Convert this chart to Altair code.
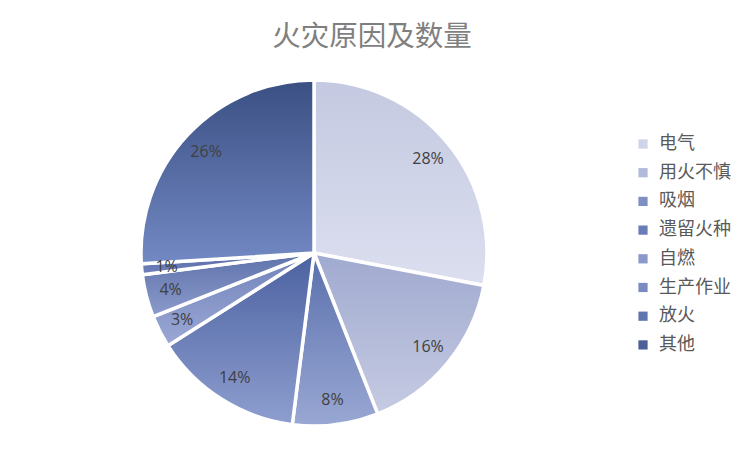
import pandas as pd
import altair as alt

causes = ["电气", "用火不慎", "吸烟", "遗留火种", "自燃", "生产作业", "放火", "其他"]
shares = [28, 16, 8, 14, 3, 4, 1, 26]
# solid colours for the legend, top / bottom gradient stops for the slices
legend_colors = ["#d0d4e8", "#b2badb", "#7f8fc3", "#6a7db8", "#8a99ca", "#7a8bc2", "#6075b0", "#4d6099"]
grad_top = ["#c4c9e1", "#a0aacf", "#5a70ac", "#4b62a1", "#7283bb", "#5e72ab", "#5668a6", "#3a4f82"]
grad_bottom = ["#dcdfef", "#c6cbe3", "#99a7d3", "#8e9ecf", "#9aa8d4", "#8c9bcb", "#7283bb", "#7389c4"]

df = pd.DataFrame({
    "cause": causes,
    "share": shares,
    "order": list(range(len(causes))),
    "label": [f"{s}%" for s in shares],
})

font = "Noto Sans CJK SC"
theta_scale = alt.Scale(domain=[0, 100])

base = alt.Chart(df).transform_stack(
    stack="share", groupby=[], as_=["start", "end"], sort=[alt.SortField("order")]
)

legend_layer = base.mark_arc(outerRadius=173, stroke="white", strokeWidth=3.5).encode(
    theta=alt.Theta("start:Q", scale=theta_scale),
    theta2="end:Q",
    color=alt.Color(
        "cause:N",
        sort=causes,
        scale=alt.Scale(domain=causes, range=legend_colors),
        legend=alt.Legend(
            title=None, orient="none", legendX=626, legendY=75,
            symbolType="square", symbolSize=85, symbolStrokeWidth=0,
            labelFont=font, labelFontSize=18, labelColor="#595959",
            labelOffset=7, rowPadding=10.7,
        ),
    ),
)

layers = [legend_layer]
for i, c in enumerate(causes):
    grad = alt.Gradient(
        gradient="linear", x1=0, y1=0, x2=0, y2=1,
        stops=[alt.GradientStop(offset=0, color=grad_top[i]),
               alt.GradientStop(offset=1, color=grad_bottom[i])],
    )
    layers.append(
        base.transform_filter(alt.datum.cause == c)
        .mark_arc(outerRadius=173, stroke="white", strokeWidth=3.5, color=grad)
        .encode(theta=alt.Theta("start:Q", scale=theta_scale), theta2="end:Q")
    )

text_layer = base.transform_calculate(mid="(datum.start + datum.end) / 2").mark_text(
    radius=148, font="Open Sans", fontSize=16, color="#404040"
).encode(
    theta=alt.Theta("mid:Q", scale=theta_scale),
    text="label:N",
)
layers.append(text_layer)

chart = alt.layer(*layers).properties(
    width=612,
    height=386,
    autosize=alt.AutoSizeParams(type="none"),
    padding={"left": 0, "top": 52, "right": 119, "bottom": 0},
    title=alt.TitleParams(
        "火灾原因及数量", font=font, fontSize=28.5, fontWeight="normal",
        color="#7f7f7f", anchor="middle", dx=58, offset=9,
    ),
).configure_view(stroke=None)

chart.save("out.html", embed_options={"renderer": "svg", "actions": False})
